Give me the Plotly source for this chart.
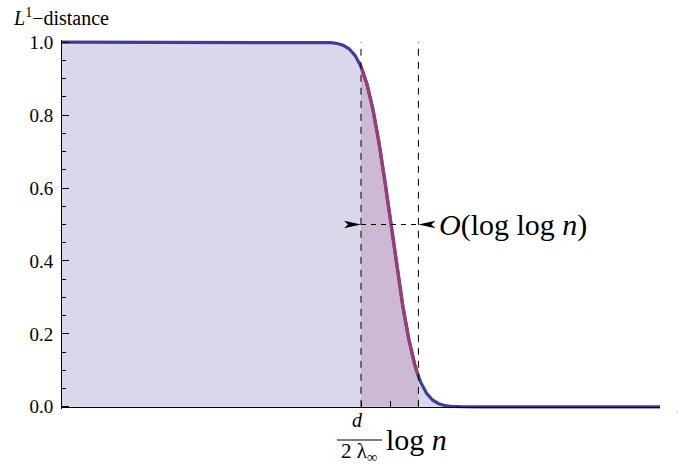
import plotly.graph_objects as go

# ---------------- data ----------------
x_vals = [0.0, 1.0, 2.0, 3.0, 4.0, 4.3, 4.4, 4.5, 4.6, 4.7, 4.8, 4.9, 5.0,
          5.1, 5.2, 5.3, 5.4, 5.5, 5.6, 5.7, 5.8, 5.9, 5.96, 6.0, 6.1, 6.2,
          6.3, 6.4, 6.5, 6.6, 6.7, 7.0, 8.0, 9.0, 10.0]
l1_distance = [1.0, 1.0, 1.0, 1.0, 1.0, 1.0, 0.9995, 0.9986, 0.9964, 0.9917,
               0.982, 0.964, 0.933, 0.885, 0.815, 0.725, 0.618, 0.5, 0.382,
               0.275, 0.185, 0.115, 0.084, 0.067, 0.036, 0.018, 0.0084,
               0.0035, 0.0014, 0.0005, 0.0002, 0.0, 0.0, 0.0, 0.0]
window_x = [5.0, 5.96]          # cutoff window (dashed lines)
center_x = 5.5                  # d/(2 lambda) log n
y_ticks = [0.0, 0.2, 0.4, 0.6, 0.8, 1.0]
y_ticktext = ["0.0", "0.2", "0.4", "0.6", "0.8", "1.0"]
y_minor = [0.05, 0.1, 0.15, 0.25, 0.3, 0.35, 0.45, 0.5, 0.55, 0.65, 0.7,
           0.75, 0.85, 0.9, 0.95]
x_ticks = [window_x[0], center_x, window_x[1]]

# ---------------- style ----------------
BLUE = "#3d3d9c"
MAGENTA = "#993d74"
FILL = "#dad9ec"
FILL2 = "rgba(153,61,116,0.2)"
SERIF = "Liberation Serif"

W, H = 678, 464
ML, MR, MT, MB = 62, 18, 40, 55
PW, PH = W - ML - MR, H - MT - MB
YPAD = 0.006


def px(x):
    return (x - ML) / PW


def py(y):
    return (H - MB - y) / PH


fig = go.Figure()

fig.add_trace(go.Scatter(x=x_vals, y=l1_distance, mode="lines",
                         line=dict(color=BLUE, width=3.2),
                         fill="tozeroy", fillcolor=FILL, hoverinfo="skip"))

seg_x = [x for x in x_vals if window_x[0] <= x <= window_x[1]]
seg_y = [y for x, y in zip(x_vals, l1_distance) if window_x[0] <= x <= window_x[1]]
fig.add_trace(go.Scatter(x=seg_x, y=seg_y, mode="lines",
                         line=dict(color=MAGENTA, width=3.2),
                         fill="tozeroy", fillcolor=FILL2, hoverinfo="skip"))

shapes = []
for wx in window_x:
    shapes.append(dict(type="line", xref="x", yref="y", x0=wx, x1=wx, y0=0, y1=1.0,
                       line=dict(color="black", width=1, dash="7px,6px")))
shapes.append(dict(type="line", xref="x", yref="y", x0=window_x[0], x1=window_x[1],
                   y0=0.5, y1=0.5, line=dict(color="black", width=1, dash="5px,5px")))

# arrowheads (in data units derived from pixel sizes)
ux = 10.0 / PW
uy = (1 + 2 * YPAD) / PH
alen, ahw, anotch = 17 * ux, 3.8 * uy, 4 * ux
for tip, d in [(window_x[0], -1), (window_x[1], 1)]:
    path = (f"M{tip},{0.5} L{tip + d*alen},{0.5 + ahw} "
            f"L{tip + d*(alen - anotch)},{0.5} L{tip + d*alen},{0.5 - ahw} Z")
    shapes.append(dict(type="path", xref="x", yref="y", path=path,
                       fillcolor="black", line=dict(width=0)))

# fraction bar
shapes.append(dict(type="line", xref="paper", yref="paper", x0=px(337), x1=px(382),
                   y0=py(440), y1=py(440), line=dict(color="black", width=1)))

annotations = [
    dict(text="<i>L</i><sup>1</sup>\u2212distance", xref="paper", yref="paper",
         x=px(11), y=py(17), xanchor="left", yanchor="middle", showarrow=False,
         font=dict(family=SERIF, size=20, color="black")),
    dict(text="<i>O</i>(log log <i>n</i>)", xref="x", yref="y", x=window_x[1], y=0.5,
         xshift=19, xanchor="left", yanchor="middle", showarrow=False,
         font=dict(family=SERIF, size=30, color="black")),
    dict(text="<i>d</i>", xref="paper", yref="paper", x=px(357), y=py(420),
         xanchor="center", yanchor="middle", showarrow=False,
         font=dict(family=SERIF, size=20, color="black")),
    dict(text="2 \u03bb<sub>\u221e</sub>", xref="paper", yref="paper", x=px(359), y=py(452),
         xanchor="center", yanchor="middle", showarrow=False,
         font=dict(family=SERIF, size=21, color="black")),
    dict(text="log <i>n</i>", xref="paper", yref="paper", x=px(384), y=py(440),
         xanchor="left", yanchor="middle", showarrow=False,
         font=dict(family=SERIF, size=30, color="black")),
    dict(text="<i>n</i>", xref="paper", yref="paper", x=px(675), y=py(408),
         xanchor="left", yanchor="middle", showarrow=False,
         font=dict(family=SERIF, size=18, color="black")),
]

fig.update_layout(
    width=W, height=H,
    margin=dict(l=ML, r=MR, t=MT, b=MB, pad=0),
    paper_bgcolor="white", plot_bgcolor="white",
    showlegend=False,
    font=dict(family=SERIF, color="black"),
    shapes=shapes, annotations=annotations,
    xaxis=dict(range=[0, 10], anchor="free", position=YPAD / (1 + 2 * YPAD),
               showline=True, linecolor="black", linewidth=1,
               ticks="inside", tickvals=x_ticks, ticklen=6, tickcolor="black",
               showticklabels=False, showgrid=False, zeroline=False, fixedrange=True),
    yaxis=dict(range=[-YPAD, 1 + YPAD], showline=True, linecolor="black", linewidth=1,
               ticks="inside", tickvals=y_ticks, ticktext=y_ticktext, ticklen=7,
               tickcolor="black", ticklabelstandoff=4,
               tickfont=dict(family=SERIF, size=19, color="black"),
               minor=dict(tickvals=y_minor, ticks="inside", ticklen=4, tickcolor="black"),
               showgrid=False, zeroline=False, fixedrange=True),
)

fig.write_html("out.html", config={"displayModeBar": False},
               post_script="document.body.style.margin='0';document.body.style.padding='0';")
